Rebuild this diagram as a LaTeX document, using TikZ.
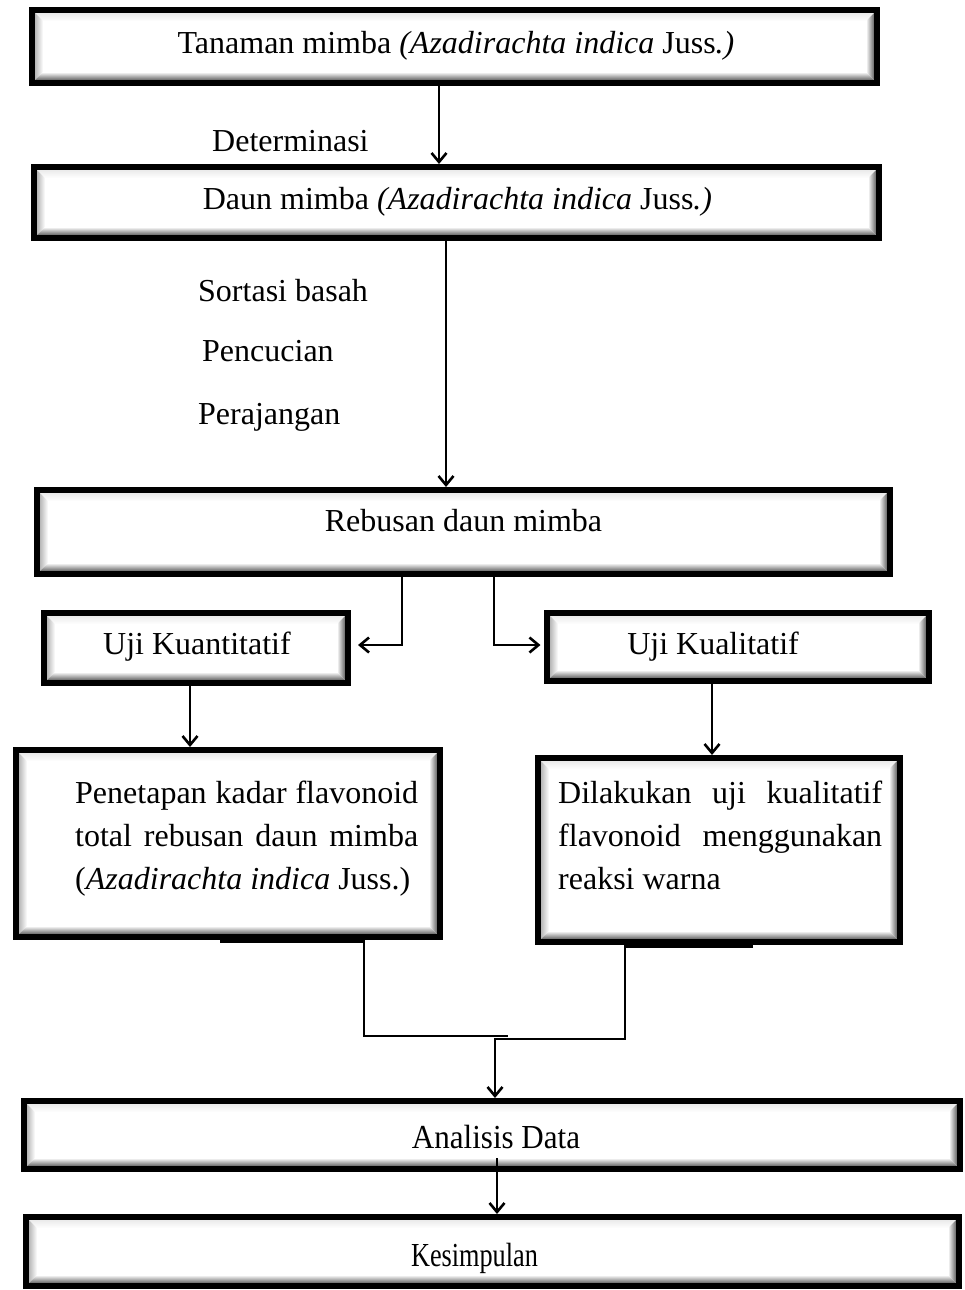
\documentclass[tikz,border=0pt]{standalone}
\usepackage{fontspec}
\setmainfont{Liberation Serif}
\usetikzlibrary{arrows.meta,calc}
\tikzset{
  bevelbox/.style={draw=black, line width=6pt, miter limit=10, fill=white, inner sep=0pt,
    minimum width=#1, path picture={
      \coordinate (pSW) at (path picture bounding box.south west);
      \coordinate (pNE) at (path picture bounding box.north east);
      \coordinate (pSE) at (pSW -| pNE);
      \coordinate (pNW) at (pSW |- pNE);
      \shade[top color=black!8, bottom color=white]
        ([shift={(3pt,-3pt)}]pNW) -- ([shift={(-3pt,-3pt)}]pNE) --
        ([shift={(-11pt,-11pt)}]pNE) -- ([shift={(11pt,-11pt)}]pNW) -- cycle;
      \shade[left color=black!28, right color=white]
        ([shift={(3pt,3pt)}]pSW) -- ([shift={(3pt,-3pt)}]pNW) --
        ([shift={(11pt,-11pt)}]pNW) -- ([shift={(11pt,11pt)}]pSW) -- cycle;
      \shade[top color=white, bottom color=black!60]
        ([shift={(3pt,3pt)}]pSW) -- ([shift={(-3pt,3pt)}]pSE) --
        ([shift={(-11pt,11pt)}]pSE) -- ([shift={(11pt,11pt)}]pSW) -- cycle;
      \shade[left color=white, right color=black!60]
        ([shift={(-3pt,3pt)}]pSE) -- ([shift={(-3pt,-3pt)}]pNE) --
        ([shift={(-11pt,-11pt)}]pNE) -- ([shift={(-11pt,11pt)}]pSE) -- cycle;
    }},
  txt/.style={anchor=base, inner sep=0pt, font=\fontsize{32}{43}\selectfont},
  ltxt/.style={anchor=base west, inner sep=0pt, font=\fontsize{32}{43}\selectfont},
  conn/.style={line width=2.6pt, line cap=butt},
  arr/.style={conn, -{Straight Barb[length=9pt,width=15pt,line width=2.6pt]}},
}
\begin{document}
\begin{tikzpicture}[x=1pt,y=-1pt]
\useasboundingbox (0,0) rectangle (965,1290);

% boxes
\node[bevelbox=845pt, minimum height=73pt] (b1) at (454.5,46.5) {};
\node[bevelbox=845pt, minimum height=71pt] (b2) at (456.5,202.5) {};
\node[bevelbox=853pt, minimum height=84pt] (b3) at (463.5,532) {};
\node[bevelbox=304pt, minimum height=70pt] (b4) at (196,648) {};
\node[bevelbox=382pt, minimum height=68pt] (b5) at (738,647) {};
\node[bevelbox=424pt, minimum height=187pt] (b6) at (228,843.5) {};
\node[bevelbox=362pt, minimum height=184pt] (b7) at (719,850) {};
\node[bevelbox=936pt, minimum height=68pt] (b8) at (492,1135) {};
\node[bevelbox=933pt, minimum height=69pt] (b9) at (492.5,1251.5) {};

% texts
\node[txt] (t1) at (456,54) {Tanaman mimba \textit{(Azadirachta indica} Juss\textit{.)}};
\node[txt] (t2) at (457.5,209) {Daun mimba \textit{(Azadirachta indica} Juss\textit{.)}};
\node[txt] (t3) at (463.5,531) {Rebusan daun mimba};
\node[txt] (t4) at (197,654) {Uji Kuantitatif};
\node[txt] (t5) at (713,654) {Uji Kualitatif};
\node[txt] (t8) at (496,1148) {\scalebox{0.97}[1.05]{Analisis Data}};
\node[txt] (t9) at (474.5,1266) {\scalebox{0.82}[1.05]{Kesimpulan}};

\node[ltxt] (t6a) at (75,803) {\makebox[343pt][s]{Penetapan\hfill kadar\hfill flavonoid}};
\node[ltxt] (t6b) at (75,846) {\makebox[343pt][s]{total\hfill rebusan\hfill daun\hfill mimba}};
\node[ltxt] (t6c) at (75,889) {(\textit{Azadirachta indica} Juss.)};
\node[ltxt] (t7a) at (558,803) {\makebox[324pt][s]{Dilakukan\hfill uji\hfill kualitatif}};
\node[ltxt] (t7b) at (558,846) {\makebox[324pt][s]{flavonoid\hfill menggunakan}};
\node[ltxt] (t7c) at (558,889) {reaksi warna};

% side labels
\node[ltxt] (l1) at (212,151) {Determinasi};
\node[ltxt] (l2) at (198,301) {Sortasi basah};
\node[ltxt] (l3) at (202,361) {Pencucian};
\node[ltxt] (l4) at (198,424) {Perajangan};

% connector coordinates
\coordinate (xa) at (439,0);
\coordinate (xb) at (446,0);
\coordinate (x3a) at (402,645);
\coordinate (x3b) at (494,645);
\coordinate (x4) at (190,0);
\coordinate (x5) at (712,0);
\coordinate (x6a) at (220,0);
\coordinate (j6) at (364,1036);
\coordinate (j6e) at (508,1036);
\coordinate (x7a) at (753,0);
\coordinate (j7) at (625,1039);
\coordinate (j7e) at (495,1039);
\coordinate (x9) at (497,1158);

% connectors
\draw[arr] (b1.south -| xa) -- (b2.north -| xa);
\draw[arr] (b2.south -| xb) -- (b3.north -| xb);
\draw[conn] ([yshift=3.5pt]b3.south -| x3a) -- ([yshift=3.5pt]b3.south -| x3b);
\draw[arr, shorten >=7pt] (b3.south -| x3a) -- (x3a) -- (b4.east |- x3a);
\draw[arr, shorten >=3.5pt] (b3.south -| x3b) -- (x3b) -- (b5.west |- x3b);
\draw[arr] (b4.south -| x4) -- (b6.north -| x4);
\draw[arr] (b5.south -| x5) -- (b7.north -| x5);
\draw[conn] ([yshift=-1.5pt]b6.south -| x6a) -- ([yshift=-1.5pt]b6.south -| j6) -- (j6) -- (j6e);
\draw[conn] ([yshift=-1.5pt]b7.south -| x7a) -- ([yshift=-1.5pt]b7.south -| j7);
\draw[arr] (b7.south -| j7) -- (j7) -- (j7e) -- (b8.north -| j7e);
\draw[arr] (x9) -- (b9.north -| x9);
\end{tikzpicture}
\end{document}
